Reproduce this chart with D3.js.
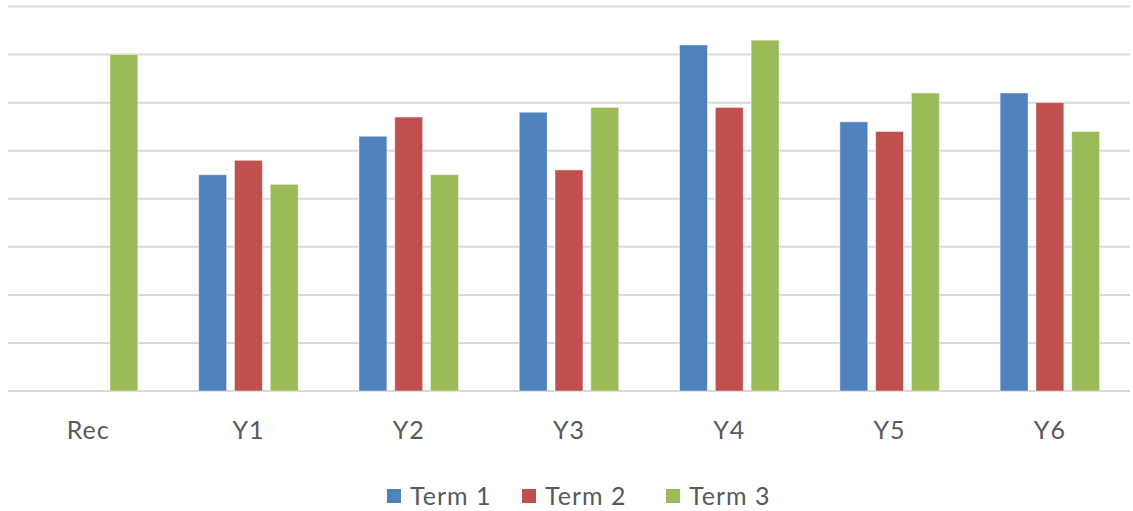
<!DOCTYPE html>
<html>
<head>
<meta charset="utf-8">
<script src="https://cdn.jsdelivr.net/npm/d3@7"></script>
<style>
    body { margin: 0; background: #fff; }
    svg { display: block; font-family: Lato, "Open Sans", sans-serif; }
</style>
</head>
<body>
<svg width="1133" height="511"></svg>
<script>
const width = 1133, height = 511;
const svg = d3.select("svg");

// Data
const categories = ["Rec", "Y1", "Y2", "Y3", "Y4", "Y5", "Y6"];
const terms = ["Term 1", "Term 2", "Term 3"];
const term1 = [null, 4.5, 5.3, 5.8, 7.2, 5.6, 6.2];
const term2 = [null, 4.8, 5.7, 4.6, 5.9, 5.4, 6.0];
const term3 = [7.0, 4.3, 4.5, 5.9, 7.3, 6.2, 5.4];
const colors = ["#4f81bd", "#c0504d", "#9bbb59"];
const gridTicks = [0, 1, 2, 3, 4, 5, 6, 7, 8];

const seriesValues = [term1, term2, term3];

const x0 = d3.scaleBand().domain(categories).range([8, 1130]).padding(0);
const x1 = d3.scaleBand().domain(terms).range([0, x0.bandwidth()])
    .paddingInner(0.22).paddingOuter(0.85);
const y = d3.scaleLinear().domain([0, 8]).range([391, 6.5]);
const color = d3.scaleOrdinal().domain(terms).range(colors);

// Gridlines
svg.append("g")
    .selectAll("line")
    .data(gridTicks)
    .enter().append("line")
    .attr("x1", 8).attr("x2", 1130)
    .attr("y1", d => y(d)).attr("y2", d => y(d))
    .attr("stroke", "#d9d9d9")
    .attr("stroke-width", 2);

// Bars
const rows = [];
categories.forEach((c, i) => {
    terms.forEach((t, j) => {
        const v = seriesValues[j][i];
        if (v != null) rows.push({ cat: c, term: t, value: v });
    });
});

svg.append("g")
    .selectAll("rect")
    .data(rows)
    .enter().append("rect")
    .attr("x", d => x0(d.cat) + x1(d.term))
    .attr("y", d => y(d.value))
    .attr("width", x1.bandwidth())
    .attr("height", d => y(0) - y(d.value))
    .attr("fill", d => color(d.term))
    .attr("stroke", "rgba(255,255,255,0.45)")
    .attr("stroke-width", 1);

// Category axis labels
const xAxis = svg.append("g")
    .attr("transform", `translate(0,${y(0)})`)
    .call(d3.axisBottom(x0).tickSize(0).tickPadding(30));
xAxis.select(".domain").remove();
xAxis.selectAll("text")
    .style("font-family", "Lato, 'Open Sans', sans-serif")
    .style("font-size", "25px")
    .style("letter-spacing", "1px")
    .attr("fill", "#595959");

// Legend
const legendX = [387, 522, 666];
const legend = svg.append("g").selectAll("g")
    .data(terms)
    .enter().append("g")
    .attr("transform", (d, i) => `translate(${legendX[i]},489)`);

legend.append("rect")
    .attr("width", 14).attr("height", 14)
    .attr("fill", d => color(d));

legend.append("text")
    .attr("x", 23).attr("y", 16)
    .style("font-size", "25px")
    .style("letter-spacing", "1px")
    .attr("fill", "#595959")
    .text(d => d);
</script>
</body>
</html>
